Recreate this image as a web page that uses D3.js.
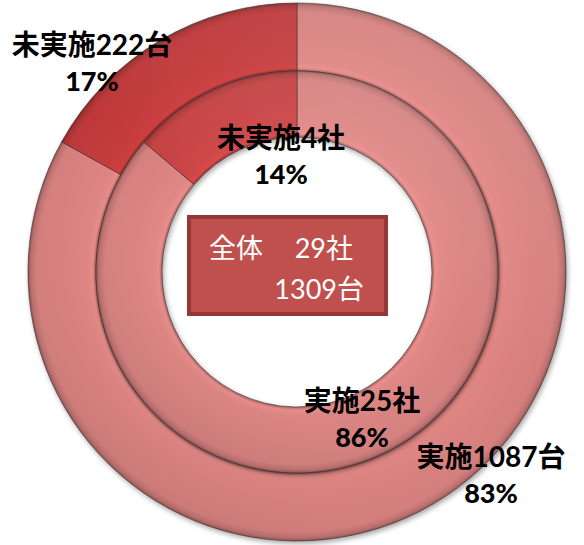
<!DOCTYPE html>
<html>
<head>
<meta charset="utf-8">
<script src="https://cdn.jsdelivr.net/npm/d3@7"></script>
<style>
  html, body { margin: 0; padding: 0; background: #fff; }
  svg { display: block; }
</style>
</head>
<body>
<div id="chartDiv"></div>
<script>
// data
const categories = ["実施", "未実施"];
const companyValues = [25, 4];       // inner ring (社)
const unitValues = [1087, 222];      // outer ring (台)
const companyPct = ["86%", "14%"];
const unitPct = ["83%", "17%"];
const totalCompanies = 29;
const totalUnits = 1309;

const W = 584, H = 545;
const cx = 297, cy = 272;
const rHole = 135, rMid = 201, rOuter = 269;

const svg = d3.select('#chartDiv').append('svg')
  .attr('width', W).attr('height', H);
const defs = svg.append('defs');

const shadow = defs.append('filter').attr('id', 'shadow')
  .attr('x', '-10%').attr('y', '-10%').attr('width', '120%').attr('height', '120%');
shadow.append('feDropShadow')
  .attr('dx', 1.5).attr('dy', 2.5).attr('stdDeviation', 2.5)
  .attr('flood-color', '#000').attr('flood-opacity', 0.35);

const ringColors = {
  outer: ['#d9817f', '#c13a3b'],
  inner: ['#da8381', '#c84344']
};

// bevel-like radial gradient for a ring
function makeRingGradient(id, base, r0, r1) {
  const c = d3.color(base);
  const g = defs.append('radialGradient').attr('id', id)
    .attr('gradientUnits', 'userSpaceOnUse')
    .attr('cx', 0).attr('cy', 0).attr('r', r1);
  const stops = [
    [r0, c.darker(0.8)],
    [r0 + 3, c.brighter(0.2)],
    [r0 + 9, c.brighter(0.08)],
    [(r0 + r1) / 2, c],
    [r1 - 9, c.darker(0.05)],
    [r1 - 3, c.darker(0.4)],
    [r1, c.darker(1.2)]
  ];
  stops.forEach(([r, col]) => {
    g.append('stop').attr('offset', r / r1).attr('stop-color', col.formatHex());
  });
  return 'url(#' + id + ')';
}

// soft light from the upper right
const light = defs.append('linearGradient').attr('id', 'light')
  .attr('x1', '0.8').attr('y1', '0').attr('x2', '0.2').attr('y2', '1');
light.append('stop').attr('offset', 0).attr('stop-color', '#fff').attr('stop-opacity', 0.1);
light.append('stop').attr('offset', 0.45).attr('stop-color', '#fff').attr('stop-opacity', 0);
light.append('stop').attr('offset', 1).attr('stop-color', '#000').attr('stop-opacity', 0.06);

const pie = d3.pie().sort(null).value(d => d);
const gChart = svg.append('g').attr('transform', `translate(${cx},${cy})`);

function drawRing(values, r0, r1, key) {
  const arcFn = d3.arc().innerRadius(r0).outerRadius(r1);
  const arcs = pie(values);
  const grads = ringColors[key].map((col, i) => makeRingGradient(`g_${key}_${i}`, col, r0, r1));
  const ring = gChart.append('g').attr('filter', 'url(#shadow)');
  ring.selectAll('path.slice')
    .data(arcs)
    .enter()
    .append('path')
    .attr('class', 'slice')
    .attr('d', arcFn)
    .attr('fill', (d, i) => grads[i])
    .attr('stroke', 'rgba(60,40,40,0.6)')
    .attr('stroke-width', 1);
  // lighting overlay
  gChart.append('path')
    .attr('d', d3.arc().innerRadius(r0).outerRadius(r1).startAngle(0).endAngle(2 * Math.PI)())
    .attr('fill', 'url(#light)')
    .attr('pointer-events', 'none');
}

drawRing(unitValues, rMid, rOuter, 'outer');
drawRing(companyValues, rHole, rMid, 'inner');

// centre box
const box = svg.append('g')
  .style('font-family', 'Lato, "Noto Sans CJK JP", sans-serif')
  .style('font-size', '27px')
  .attr('fill', '#fff');
box.append('rect')
  .attr('x', 189).attr('y', 217).attr('width', 197).attr('height', 97)
  .attr('fill', '#c0504d').attr('stroke', '#953735').attr('stroke-width', 4);
box.append('text')
  .attr('x', 209).attr('y', 258)
  .text('全体');
box.append('text')
  .attr('x', 353).attr('y', 258).attr('text-anchor', 'end')
  .text(totalCompanies + '社');
box.append('text')
  .attr('x', 364).attr('y', 299).attr('text-anchor', 'end')
  .text(totalUnits + '台');

// data labels
const labels = [
  { t1: categories[1] + unitValues[1] + '台', t2: unitPct[1], x: 92, y: 55 },
  { t1: categories[1] + companyValues[1] + '社', t2: companyPct[1], x: 281, y: 148 },
  { t1: categories[0] + companyValues[0] + '社', t2: companyPct[0], x: 362, y: 411 },
  { t1: categories[0] + unitValues[0] + '台', t2: unitPct[0], x: 491, y: 467 }
];
const gLab = svg.append('g')
  .style('font-family', 'Lato, "Noto Sans CJK JP", sans-serif')
  .attr('fill', '#000')
  .attr('text-anchor', 'middle');
labels.forEach(l => {
  gLab.append('text').attr('x', l.x).attr('y', l.y)
    .style('font-weight', 'bold')
    .style('font-size', '28px').text(l.t1);
  gLab.append('text').attr('x', l.x).attr('y', l.y + 36)
    .style('font-weight', 900)
    .style('font-size', '27px').text(l.t2);
});
</script>
</body>
</html>
